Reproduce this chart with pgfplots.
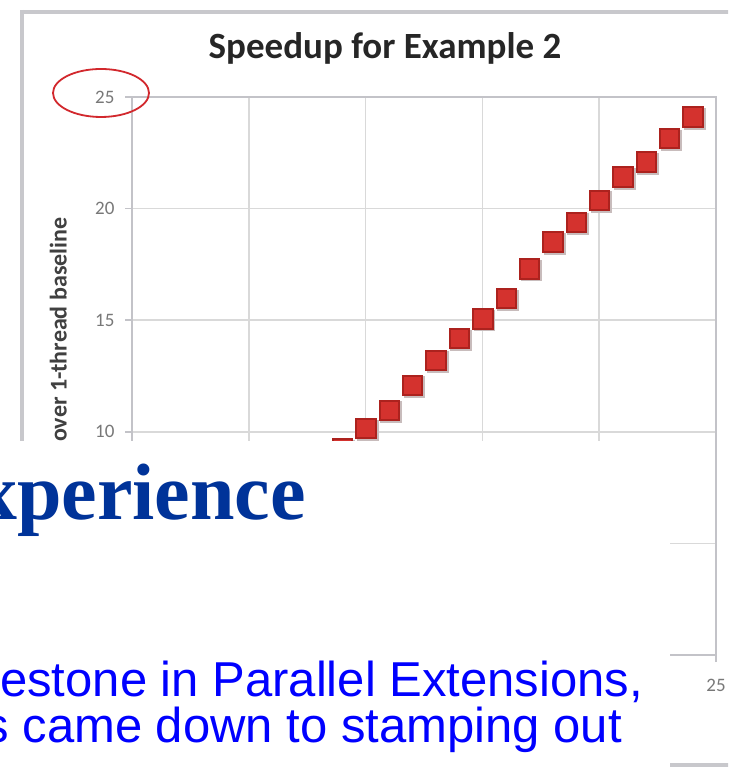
\documentclass[border=0pt]{standalone}
\usepackage{fontspec}
\setmainfont{Carlito}
\newfontfamily\slideserif{Liberation Serif}
\newfontfamily\slidesans{Liberation Sans}
\usepackage{pgfplots}
\pgfplotsset{compat=1.18}
\definecolor{gridgray}{RGB}{217,217,217}
\definecolor{axgray}{RGB}{195,195,200}
\definecolor{framegray}{RGB}{200,200,204}
\definecolor{ticktext}{RGB}{120,120,120}
\definecolor{markred}{RGB}{212,50,46}
\definecolor{markedge}{RGB}{172,34,30}
\definecolor{markshadow}{RGB}{200,188,188}
\definecolor{titlegray}{RGB}{38,38,38}
\definecolor{slideblue}{RGB}{0,51,153}
\definecolor{textblue}{RGB}{0,0,255}
\definecolor{circred}{RGB}{210,40,45}
\pgfplotstableread{
x y
9 9.27
10 10.16
11 10.98
12 12.10
13 13.22
14 14.19
15 15.08
16 15.98
17 17.32
18 18.52
19 19.41
20 20.39
21 21.43
22 22.10
23 23.15
24 24.12
}\speedup
\begin{document}
\begin{tikzpicture}[x=1pt,y=1pt]
\useasboundingbox (0,0) rectangle (728,767);
\clip (0,0) rectangle (728,767);
\fill[white] (0,0) rectangle (728,767);
\draw[framegray, line width=4pt] (22,755) -- (740,755);
\draw[framegray, line width=4pt] (22,757) -- (22,2) -- (740,2);
\begin{axis}[
  at={(132pt,112pt)}, anchor=south west,
  scale only axis, width=584pt, height=558pt,
  xmin=0, xmax=25, ymin=0, ymax=25,
  xtick={0,5,...,25}, ytick={0,5,...,25},
  xticklabels={,,,,,25}, yticklabels={,,10,15,20,25},
  xtick pos=bottom, ytick pos=left,
  tick align=outside, major tick length=7pt,
  grid=major, grid style={draw=gridgray, line width=1.5pt},
  axis line style={draw=axgray, line width=1.5pt},
  tick style={draw=axgray, line width=1.5pt},
  /pgf/number format/assume math mode=true,
  ticklabel style={font=\fontsize{19}{22}\selectfont, text=ticktext},
  yticklabel style={xshift=-7pt},
  xticklabel style={yshift=-14pt},
  ylabel={Speedup over 1-thread baseline},
  ylabel style={font=\bfseries\fontsize{24}{28}\selectfont, text=black!75,
    at={(axis description cs:-0.123,0.5)}, anchor=center},
]
\addplot[color=markshadow, only marks, mark=square*, mark size=10.3pt,
  mark options={fill=markshadow, draw=markshadow, line width=0.1pt, xshift=1.8pt, yshift=-1.8pt}]
  table[x=x, y=y] {\speedup};
\addplot[color=markedge, only marks, mark=square*, mark size=10.2pt,
  mark options={fill=markedge, draw=markedge, line width=0.1pt}]
  table[x=x, y=y] {\speedup};
\addplot[color=markred, only marks, mark=square*, mark size=8.2pt,
  mark options={fill=markred, draw=markred, line width=0.1pt}]
  table[x=x, y=y] {\speedup};
\end{axis}
\node[font=\bfseries\fontsize{37}{44}\selectfont, text=titlegray] at (385,719) {Speedup for Example 2};
\draw[circred, line width=1.8pt] (101,674) ellipse [x radius=48pt, y radius=24pt];
\fill[white] (0,0) rectangle (670,326);
\node[anchor=base east, inner sep=0pt, font=\slideserif\bfseries\fontsize{80}{90}\selectfont, text=slideblue] at (306,247) {Experience};
\node[anchor=base west, inner sep=0pt, font=\slidesans\fontsize{49}{56}\selectfont, text=textblue] at (0,70) {estone in Parallel Extensions,};
\node[anchor=base east, inner sep=0pt, font=\slidesans\fontsize{49}{56}\selectfont, text=textblue] at (622,24) {s came down to stamping out};
\end{tikzpicture}
\end{document}
